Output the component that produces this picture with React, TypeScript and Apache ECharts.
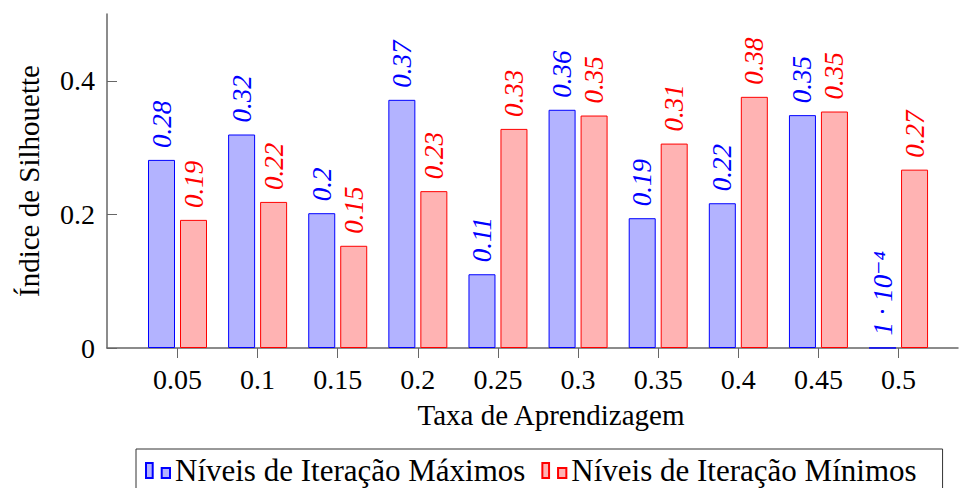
import React, { useEffect, useRef } from "react";
import * as echarts from "echarts";

const learningRates = [0.05, 0.1, 0.15, 0.2, 0.25, 0.3, 0.35, 0.4, 0.45, 0.5];
const maxIterValues = [0.2816, 0.3196, 0.2018, 0.3715, 0.1104, 0.3566, 0.1943, 0.2167, 0.3486, 0.0001];
const minIterValues = [0.1918, 0.2187, 0.153, 0.2348, 0.328, 0.348, 0.306, 0.376, 0.354, 0.267];
const yTicks = [0, 0.2, 0.4];
const seriesNames = ["Níveis de Iteração Máximos", "Níveis de Iteração Mínimos"];

const SERIF = "'Liberation Serif', 'DejaVu Serif', serif";
const SUP: Record<string, string> = { "0": "⁰", "1": "¹", "2": "²", "3": "³", "4": "⁴", "5": "⁵", "6": "⁶", "7": "⁷", "8": "⁸", "9": "⁹" };

function fmtBarLabel(v: number): string {
  if (v !== 0 && Math.abs(v) < 0.01) {
    const e = Math.floor(Math.log10(v));
    const m = Math.round(v / Math.pow(10, e));
    const sup = "⁻" + String(-e).split("").map((c) => SUP[c]).join("");
    return `${m} · 10${sup}`;
  }
  return String(Number(v.toFixed(2)));
}

function fmtTick(v: number): string {
  return String(Number(Number(v).toFixed(2)));
}

function barLabel(color: string) {
  return {
    show: true,
    position: "top",
    rotate: 90,
    align: "left",
    verticalAlign: "middle",
    distance: 9,
    offset: [3, 0],
    fontSize: 27,
    fontStyle: "italic",
    fontFamily: SERIF,
    color,
    formatter: (p: any) => fmtBarLabel(p.value[1]),
  };
}

export default function App() {
  const ref = useRef<HTMLDivElement>(null);
  useEffect(() => {
    if (!ref.current) return;
    const chart = echarts.init(ref.current, null, { renderer: "svg" });
    const axisColor = "#666";
    chart.setOption({
      animation: false,
      backgroundColor: "#fff",
      grid: { left: 107, right: 1, top: 14, bottom: 140 },
      legend: {
        show: true,
        left: 136,
        top: 449,
        padding: [6, 26, 6, 9],
        itemGap: 16,
        itemWidth: 24,
        itemHeight: 15,
        borderColor: "#333",
        borderWidth: 1,
        icon: "path://M0,0H6.7V15H0Z M15.7,5H24V15H15.7Z",
        textStyle: { fontSize: 31, fontFamily: SERIF, color: "#000" },
        data: seriesNames,
      },
      xAxis: {
        type: "value",
        min: 0.006,
        max: 0.5371,
        name: "Taxa de Aprendizagem",
        nameLocation: "middle",
        nameGap: 52,
        nameTextStyle: { fontSize: 29, fontFamily: SERIF, color: "#000", padding: [0, 0, 0, 37] },
        axisLine: { show: true, lineStyle: { color: axisColor, width: 1.5 } },
        axisTick: { show: true, inside: false, length: 10, customValues: learningRates, lineStyle: { color: axisColor, width: 1 } },
        axisLabel: {
          show: true,
          customValues: learningRates,
          formatter: (v: number) => fmtTick(v),
          margin: 17,
          fontSize: 28,
          fontFamily: SERIF,
          color: "#000",
        },
        splitLine: { show: false },
      },
      yAxis: {
        type: "value",
        min: 0,
        max: 0.5,
        name: "Índice de Silhouette",
        nameLocation: "middle",
        nameRotate: 90,
        nameGap: 64,
        nameTextStyle: { fontSize: 29, fontFamily: SERIF, color: "#000" },
        axisLine: { show: true, lineStyle: { color: axisColor, width: 1.5 } },
        axisTick: { show: true, inside: true, length: 10, customValues: yTicks, lineStyle: { color: axisColor, width: 1 } },
        axisLabel: {
          show: true,
          customValues: yTicks,
          formatter: (v: number) => fmtTick(v),
          margin: 12,
          fontSize: 28,
          fontFamily: SERIF,
          color: "#000",
        },
        splitLine: { show: false },
      },
      series: [
        {
          name: seriesNames[0],
          type: "bar",
          barWidth: 27,
          barGap: "18.5%",
          data: learningRates.map((x, i) => [x, maxIterValues[i]]),
          itemStyle: { color: "#b3b3ff", borderColor: "#0000ff", borderWidth: 1 },
          label: barLabel("#0000ff"),
        },
        {
          name: seriesNames[1],
          type: "bar",
          barWidth: 27,
          barGap: "18.5%",
          data: learningRates.map((x, i) => [x, minIterValues[i]]),
          itemStyle: { color: "#ffb3b3", borderColor: "#ff0000", borderWidth: 1 },
          label: barLabel("#ff0000"),
        },
      ],
    });
    return () => chart.dispose();
  }, []);
  return (
    <div
      ref={ref}
      style={{ position: "fixed", left: 0, top: 0, width: 959, height: 488, background: "#fff" }}
    />
  );
}
